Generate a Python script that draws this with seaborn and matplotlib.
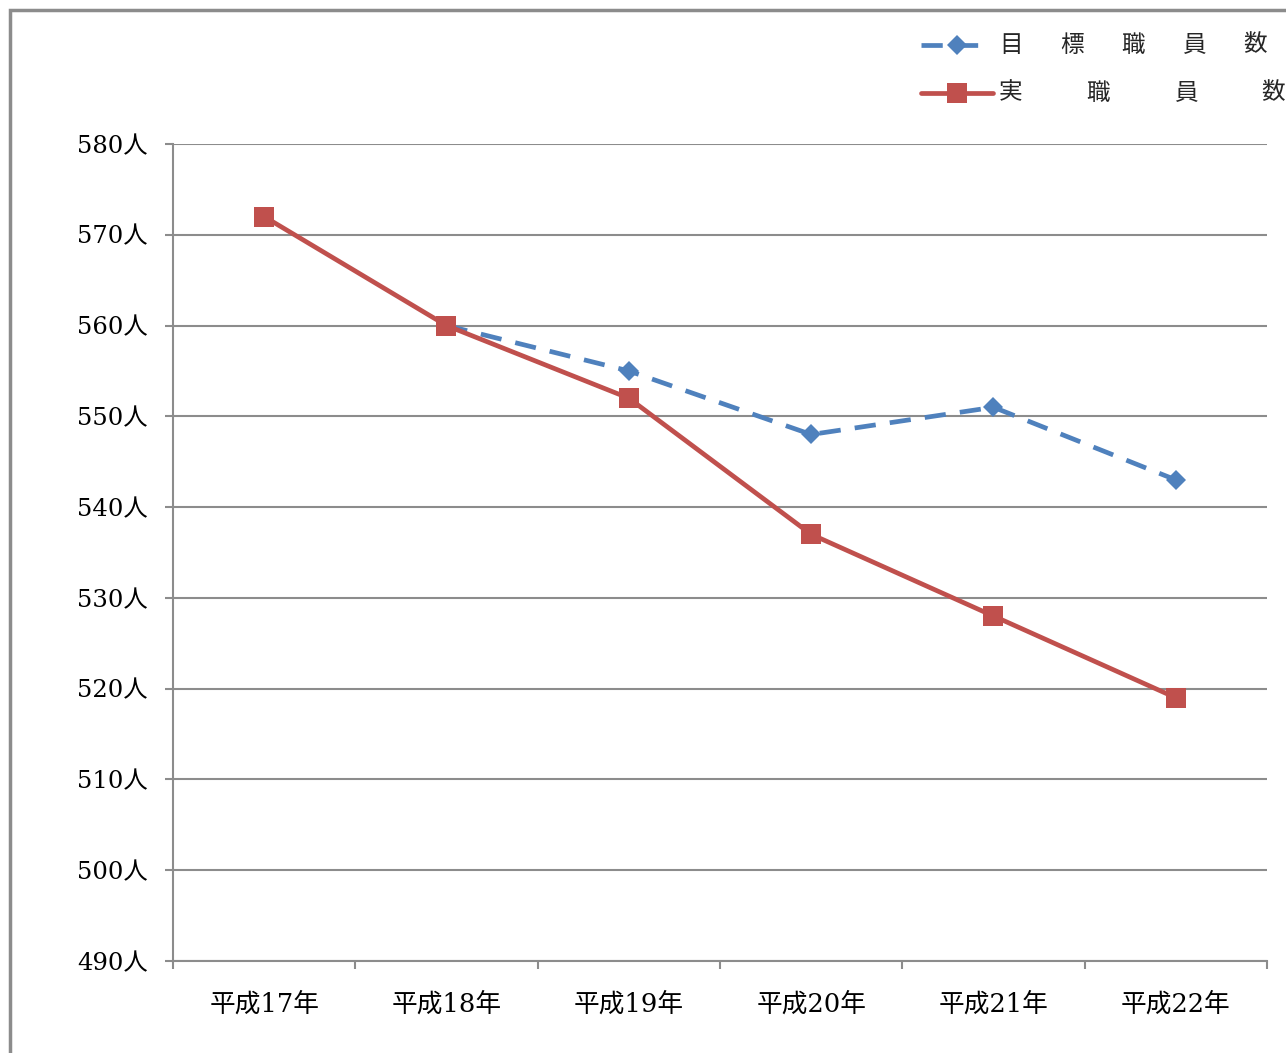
import numpy as np
import pandas as pd
import matplotlib
matplotlib.use("Agg")
import matplotlib.pyplot as plt
from matplotlib.lines import Line2D
from matplotlib.patches import Rectangle
import seaborn as sns

years = ["平成17年", "平成18年", "平成19年", "平成20年", "平成21年", "平成22年"]
target_staff = [np.nan, 560, 555, 548, 551, 543]
actual_staff = [572, 560, 552, 537, 528, 519]
y_ticks = [490, 500, 510, 520, 530, 540, 550, 560, 570, 580]
target_label = ["目", "標", "職", "員", "数"]
actual_label = ["実", "職", "員", "数"]

sns.set_theme(style="white")
plt.rcParams["font.family"] = ["DejaVu Serif", "Noto Sans CJK JP"]

BLUE = "#4F81BD"
RED = "#C0504D"
GRID = "#8c8c8c"

W, H = 1286, 1053
fig = plt.figure(figsize=(W / 100, H / 100), dpi=100)
ax = fig.add_axes([173 / W, 1 - 961 / H, (1267 - 173) / W, (961 - 144) / H])

df = pd.DataFrame({"pos": np.arange(len(years)), "year": years,
                   "target": target_staff, "actual": actual_staff})
tdf = df.dropna(subset=["target"])

sns.lineplot(data=tdf, x="pos", y="target", ax=ax, color=BLUE, lw=3.4,
             marker="D", markersize=10, markeredgewidth=0, zorder=3)
ax.lines[-1].set_linestyle((0, (4.5, 3)))
sns.lineplot(data=df, x="pos", y="actual", ax=ax, color=RED, lw=3.4,
             marker="s", markersize=14, markeredgewidth=0, zorder=4)

ax.set_xlim(-0.5, len(years) - 0.5)
ax.set_ylim(min(y_ticks), max(y_ticks))
ax.set_yticks(y_ticks)
ax.set_yticklabels([f"{v}人" for v in y_ticks], fontsize=17.5, color="black")
ax.set_xticks(np.arange(len(years) + 1) - 0.5)
ax.set_xticklabels([])
ax.set_xticks(np.arange(len(years)), minor=True)
ax.set_xticklabels(years, minor=True, fontsize=18.5, color="black")
ax.tick_params(axis="x", which="major", direction="out", length=6, width=1.5,
               color=GRID, bottom=True)
ax.tick_params(axis="x", which="minor", length=0, pad=22, bottom=True)
ax.tick_params(axis="y", direction="out", length=6, width=1.5, color=GRID,
               left=True, pad=12)
ax.set_xlabel("")
ax.set_ylabel("")
ax.grid(axis="y", color=GRID, lw=1.5)
ax.grid(axis="x", visible=False)
for s in ["top", "right"]:
    ax.spines[s].set_visible(False)
for s in ["left", "bottom"]:
    ax.spines[s].set_color(GRID)
    ax.spines[s].set_linewidth(1.5)
ax.set_axisbelow(True)
if ax.get_legend():
    ax.get_legend().remove()

# outer frame
fig.add_artist(Rectangle((10 / W, -0.05), 1.2, 1 - 10 / H + 0.05,
                         transform=fig.transFigure, fill=False,
                         edgecolor="#8c8c8c", lw=2.5))

# legend
def fx(px):
    return px / W

def fy(py):
    return 1 - py / H

fig.add_artist(Line2D([fx(921), fx(978)], [fy(45), fy(45)], color=BLUE, lw=3.4,
                      linestyle=(0, (4.5, 3)), transform=fig.transFigure))
fig.add_artist(Line2D([fx(957)], [fy(45)], color=BLUE, marker="D", markersize=10,
                      markeredgewidth=0, transform=fig.transFigure))
fig.add_artist(Line2D([fx(921), fx(993)], [fy(93), fy(93)], color=RED, lw=3.4,
                      transform=fig.transFigure))
fig.add_artist(Line2D([fx(957)], [fy(93)], color=RED, marker="s", markersize=14,
                      markeredgewidth=0, transform=fig.transFigure))
for i, ch in enumerate(target_label):
    fig.text(fx(1011 + 61 * i), fy(45), ch, fontsize=17, ha="center", va="center",
             family="Noto Sans CJK JP")
for i, ch in enumerate(actual_label):
    fig.text(fx(1011 + 87.3 * i), fy(93), ch, fontsize=17, ha="center", va="center",
             family="Noto Sans CJK JP")

fig.savefig("out.png", dpi=100)
